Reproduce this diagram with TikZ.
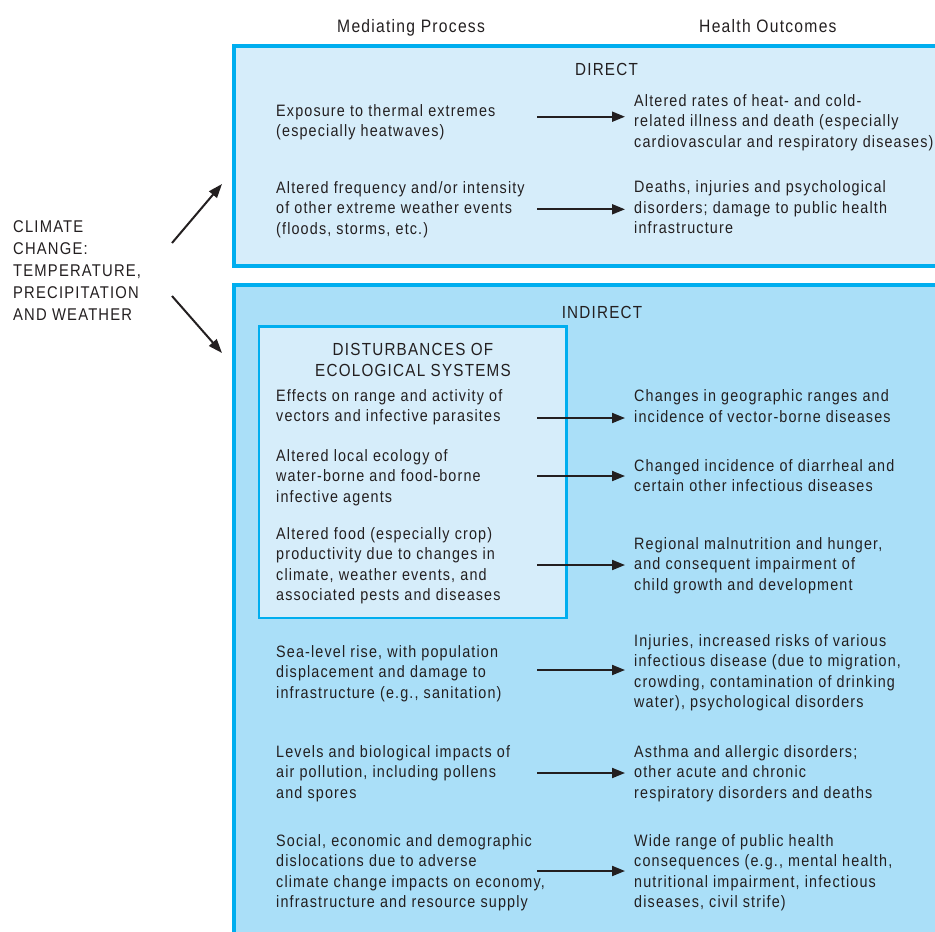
\documentclass[tikz,border=0pt]{standalone}
\usepackage{fontspec}
\setmainfont{Liberation Sans}[FakeStretch=0.87,LetterSpace=7]
\usetikzlibrary{arrows.meta}
\definecolor{cyanb}{RGB}{0,174,239}
\definecolor{lightfill}{RGB}{214,237,250}
\definecolor{midfill}{RGB}{170,223,248}
\definecolor{ink}{RGB}{35,31,32}
\newcommand{\bodysize}{\fontsize{16.5}{20.5}\selectfont}
\newcommand{\headsize}{\fontsize{18}{22}\selectfont}
\newcommand{\titlesize}{\fontsize{17.5}{20.5}\selectfont}
\begin{document}
\begin{tikzpicture}[x=1pt,y=-1pt,
  txt/.style={anchor=base west, align=left, inner sep=0pt, font=\bodysize, text=ink},
  head/.style={anchor=base west, inner sep=0pt, font=\headsize, text=ink},
  ttl/.style={anchor=base, align=center, inner sep=0pt, font=\titlesize, text=ink},
  panel/.style={draw=cyanb, line width=4pt},
  ecobox/.style={draw=cyanb, fill=lightfill, line width=2.5pt},
  conn/.style={draw=ink, line width=2pt, -{Triangle[length=13pt,width=10pt]}},
  diag/.style={draw=ink, line width=2pt, -{Triangle[length=14pt,width=10pt]}}]
\useasboundingbox (0,0) rectangle (935,932);
\clip (0,0) rectangle (935,932);
% panels
\draw[panel, fill=lightfill] (234,45.5) rectangle (960,266);
\draw[panel, fill=midfill] (234,285) rectangle (960,960);
\draw[ecobox] (259,326.5) rectangle (566.5,618);
% headers
\node[head] (hmed) at (337,32.7) {Mediating Process};
\node[head] (hout) at (699,32.7) {Health Outcomes};
\node[ttl] (tdirect) at (606.5,75) {DIRECT};
\node[ttl] (tindirect) at (602,318) {INDIRECT};
\node[ttl] (teco) at (413,376.2) {DISTURBANCES OF\\ECOLOGICAL SYSTEMS};
% climate
\node[anchor=base west, align=left, inner sep=0pt, font=\fontsize{17}{22}\selectfont, text=ink] (climate) at (13,320.7)
  {CLIMATE\\CHANGE:\\TEMPERATURE,\\PRECIPITATION\\AND WEATHER};
\coordinate (c1s) at (172,243);
\coordinate (c1e) at (222,184);
\coordinate (c2s) at (172,296);
\coordinate (c2e) at (222,353);
\draw[diag] (c1s) -- (c1e);
\draw[diag] (c2s) -- (c2e);
% direct rows (positions are last-line baselines)
\node[txt] (l1) at (276,136.5) {Exposure to thermal extremes\\(especially heatwaves)};
\node[txt] (r1) at (634,147) {Altered rates of heat- and cold-\\related illness and death (especially\\cardiovascular and respiratory diseases)};
\node[txt] (l2) at (276,234) {Altered frequency and/or intensity\\of other extreme weather events\\(floods, storms, etc.)};
\node[txt] (r2) at (634,233.7) {Deaths, injuries and psychological\\disorders; damage to public health\\infrastructure};
% indirect rows
\node[txt] (l3) at (276,421.5) {Effects on range and activity of\\vectors and infective parasites};
\node[txt] (r3) at (634,422) {Changes in geographic ranges and\\incidence of vector-borne diseases};
\node[txt] (l4) at (276,502) {Altered local ecology of\\water-borne and food-borne\\infective agents};
\node[txt] (r4) at (634,491.5) {Changed incidence of diarrheal and\\certain other infectious diseases};
\node[txt] (l5) at (276,600.5) {Altered food (especially crop)\\productivity due to changes in\\climate, weather events, and\\associated pests and diseases};
\node[txt] (r5) at (634,590) {Regional malnutrition and hunger,\\and consequent impairment of\\child growth and development};
\node[txt] (l6) at (276,698) {Sea-level rise, with population\\displacement and damage to\\infrastructure (e.g., sanitation)};
\node[txt] (r6) at (634,707.5) {Injuries, increased risks of various\\infectious disease (due to migration,\\crowding, contamination of drinking\\water), psychological disorders};
\node[txt] (l7) at (276,798) {Levels and biological impacts of\\air pollution, including pollens\\and spores};
\node[txt] (r7) at (634,798) {Asthma and allergic disorders;\\other acute and chronic\\respiratory disorders and deaths};
\node[txt] (l8) at (276,907.5) {Social, economic and demographic\\dislocations due to adverse\\climate change impacts on economy,\\infrastructure and resource supply};
\node[txt] (r8) at (634,907.5) {Wide range of public health\\consequences (e.g., mental health,\\nutritional impairment, infectious\\diseases, civil strife)};
% connectors
\foreach \i/\y in {1/116.7,2/209.3,3/418,4/476,5/565,6/670,7/773,8/871}{
  \coordinate (a\i s) at (537,\y);
  \coordinate (a\i e) at (625,\y);
  \draw[conn] (a\i s) -- (a\i e);
}
\end{tikzpicture}
\end{document}
